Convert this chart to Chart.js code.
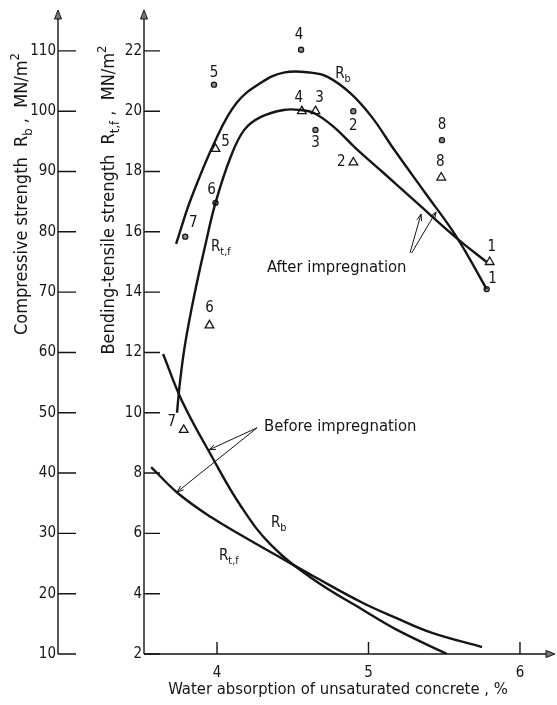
<!DOCTYPE html>
<html>
<head>
<meta charset="utf-8">
<script src="https://cdn.jsdelivr.net/npm/chart.js@4"></script>
<style>
  body { margin: 0; background: #fff; }
  canvas { display: block; }
</style>
</head>
<body>
<canvas id="strengthChart" width="557" height="705"></canvas>
<script>
const ctx = document.getElementById('strengthChart').getContext('2d');

const INK = '#151515';
const FONT = '"DejaVu Sans Condensed", "Liberation Sans Narrow", "DejaVu Sans", sans-serif';

// axis ticks
const xTicks = [4, 5, 6];
const bendingTicks = [2, 4, 6, 8, 10, 12, 14, 16, 18, 20, 22];
const compressiveTicks = [10, 20, 30, 40, 50, 60, 70, 80, 90, 100, 110];

// specimens 1..8 after impregnation
const specimens = ['1', '2', '3', '4', '5', '6', '7', '8'];
const rbPointX = [5.78, 4.90, 4.65, 4.555, 3.98, 3.99, 3.79, 5.485];
const rbPointY = [70.5, 100.0, 96.9, 110.2, 104.4, 84.8, 79.2, 95.2];
const rtfPointX = [5.80, 4.90, 4.65, 4.56, 3.99, 3.95, 3.78, 5.48];
const rtfPointY = [15.0, 18.3, 20.0, 20.0, 18.75, 12.9, 9.43, 17.8];

// fitted curves after impregnation
const afterRbX = [3.73, 3.83, 3.99, 4.13, 4.29, 4.44, 4.62, 4.73, 4.88, 5.02, 5.17, 5.37, 5.58, 5.78];
const afterRbY = [78.0, 85.6, 95.2, 101.4, 104.7, 106.4, 106.4, 105.7, 103.0, 99.1, 93.6, 86.6, 79.2, 70.5];
const afterRtfX = [3.736, 3.755, 3.79, 3.85, 3.92, 3.99, 4.09, 4.18, 4.29, 4.44, 4.55, 4.64, 4.77, 4.92, 5.10, 5.30, 5.58, 5.78];
const afterRtfY = [10.0, 11.0, 12.3, 13.9, 15.5, 16.96, 18.48, 19.38, 19.81, 20.04, 20.04, 19.94, 19.48, 18.75, 17.95, 17.05, 15.80, 15.0];

// fitted curves before impregnation
const beforeRbX = [3.644, 3.769, 3.96, 4.158, 4.356, 4.64, 4.964, 5.188, 5.518];
const beforeRbY = [59.75, 51.96, 43.0, 34.5, 28.1, 22.3, 17.3, 14.0, 10.0];
const beforeRtfX = [3.565, 3.74, 3.96, 4.18, 4.40, 4.64, 4.96, 5.19, 5.41, 5.75];
const beforeRtfY = [8.20, 7.34, 6.54, 5.88, 5.25, 4.57, 3.70, 3.18, 2.72, 2.23];

const pts = (xs, ys) => xs.map((x, i) => ({ x, y: ys[i] }));

function curve(xs, ys, axis) {
  return {
    data: pts(xs, ys),
    yAxisID: axis,
    showLine: true,
    borderColor: INK,
    borderWidth: 2.4,
    pointRadius: 0,
    tension: 0.4,
    fill: false
  };
}

// text with sub/superscript runs: [[text, ''|'sub'|'sup'], ...]
function runsWidth(c, runs, size) {
  let w = 0;
  for (const [t, k] of runs) {
    c.font = `${k ? size * 0.72 : size}px ${FONT}`;
    w += c.measureText(t).width;
  }
  return w;
}
function drawRuns(c, runs, x, y, size) {
  let cx = x;
  for (const [t, k] of runs) {
    const s = k ? size * 0.72 : size;
    c.font = `${s}px ${FONT}`;
    const dy = k === 'sub' ? size * 0.28 : k === 'sup' ? -size * 0.42 : 0;
    c.fillText(t, cx, y + dy);
    cx += c.measureText(t).width;
  }
}

function arrowLine(c, x0, y0, x1, y1) {
  c.beginPath(); c.moveTo(x0, y0); c.lineTo(x1, y1); c.stroke();
  const a = Math.atan2(y1 - y0, x1 - x0);
  c.beginPath();
  c.moveTo(x1 - 7 * Math.cos(a - 0.35), y1 - 7 * Math.sin(a - 0.35));
  c.lineTo(x1, y1);
  c.lineTo(x1 - 7 * Math.cos(a + 0.35), y1 - 7 * Math.sin(a + 0.35));
  c.stroke();
}

function arrowHead(c, tipX, tipY, dir) {
  c.beginPath();
  if (dir === 'up') {
    c.moveTo(tipX, tipY); c.lineTo(tipX - 3.5, tipY + 9); c.lineTo(tipX + 3.5, tipY + 9);
  } else {
    c.moveTo(tipX, tipY); c.lineTo(tipX - 9, tipY - 3.5); c.lineTo(tipX - 9, tipY + 3.5);
  }
  c.closePath();
  c.fillStyle = '#777';
  c.fill();
  c.stroke();
}

// axis lines, inward tick marks and arrowheads
const axesPlugin = {
  id: 'axesLines',
  afterDraw(chart) {
    const c = chart.ctx;
    const { x, yB, yC } = chart.scales;
    const a = chart.chartArea;
    c.save();
    c.strokeStyle = INK;
    c.lineWidth = 1.4;
    const leftX = yC.right;
    const baseY = yC.getPixelForValue(10);

    c.beginPath();
    c.moveTo(leftX, baseY); c.lineTo(leftX, a.top);
    c.moveTo(a.left, baseY); c.lineTo(a.left, a.top);
    c.moveTo(a.left, a.bottom); c.lineTo(a.right, a.bottom);
    c.stroke();

    c.beginPath();
    compressiveTicks.forEach(v => {
      const py = yC.getPixelForValue(v);
      c.moveTo(leftX, py); c.lineTo(leftX + 18, py);
    });
    bendingTicks.forEach(v => {
      const py = yB.getPixelForValue(v);
      c.moveTo(a.left, py); c.lineTo(a.left + 16, py);
    });
    xTicks.forEach(v => {
      const px = x.getPixelForValue(v);
      c.moveTo(px, a.bottom); c.lineTo(px, a.bottom - 12);
    });
    c.stroke();

    c.lineWidth = 1;
    arrowHead(c, leftX, a.top - 5, 'up');
    arrowHead(c, a.left, a.top - 5, 'up');
    arrowHead(c, a.right + 7, a.bottom, 'right');
    c.restore();
  }
};

// axis titles, curve names, specimen numbers and call-out arrows
const labelPlugin = {
  id: 'chartLabels',
  afterDraw(chart) {
    const c = chart.ctx;
    const { x, yB } = chart.scales;
    const X = v => x.getPixelForValue(v);
    const B = v => yB.getPixelForValue(v);
    c.save();
    c.fillStyle = INK;
    c.strokeStyle = INK;

    // rotated y-axis titles
    const vTitle = (runs, bx, cy, size) => {
      c.save();
      c.translate(bx, cy);
      c.rotate(-Math.PI / 2);
      c.textAlign = 'left';
      c.textBaseline = 'alphabetic';
      const w = runsWidth(c, runs, size);
      drawRuns(c, runs, -w / 2, 0, size);
      c.restore();
    };
    vTitle([['Compressive strength  R', ''], ['b', 'sub'], [' ,  MN/m', ''], ['2', 'sup']], 27, 194, 18);
    vTitle([['Bending-tensile strength  R', ''], ['t,f', 'sub'], [' ,  MN/m', ''], ['2', 'sup']], 114, 200, 18);

    // x-axis title
    c.font = `16.5px ${FONT}`;
    c.textAlign = 'center';
    c.textBaseline = 'middle';
    c.fillText('Water absorption of unsaturated concrete , %', 338, 690);

    // curve names
    c.textAlign = 'left';
    c.textBaseline = 'alphabetic';
    drawRuns(c, [['R', ''], ['b', 'sub']], X(4.78), B(21.1), 15);
    drawRuns(c, [['R', ''], ['t,f', 'sub']], X(3.96), B(15.37), 15);
    drawRuns(c, [['R', ''], ['b', 'sub']], X(4.356), B(6.21), 15);
    drawRuns(c, [['R', ''], ['t,f', 'sub']], X(4.013), B(5.12), 15);

    c.font = `16.5px ${FONT}`;
    c.fillText('After impregnation', X(4.33), B(14.67));
    c.fillText('Before impregnation', X(4.31), B(9.40));

    c.lineWidth = 1;
    arrowLine(c, X(5.274), B(15.30), X(5.347), B(16.59));
    arrowLine(c, X(5.285), B(15.30), X(5.446), B(16.66));
    arrowLine(c, X(4.264), B(9.50), X(3.947), B(8.77));
    arrowLine(c, X(4.264), B(9.50), X(3.736), B(7.37));

    // specimen numbers next to the measured points
    const rbOff = [[6, -10], [0, 15], [0, 13], [-2, -15], [0, -12], [-4, -13], [8, -14], [0, -15]];
    const rtfOff = [[2, -15], [-12, 0], [4, -13], [-3, -13], [10, -7], [0, -17], [-12, -8], [-1, -15]];
    c.font = `15px ${FONT}`;
    c.textAlign = 'center';
    c.textBaseline = 'middle';
    const rbMeta = chart.getDatasetMeta(4).data;
    const rtfMeta = chart.getDatasetMeta(5).data;
    specimens.forEach((s, i) => {
      c.fillText(s, rbMeta[i].x + rbOff[i][0], rbMeta[i].y + rbOff[i][1]);
      c.fillText(s, rtfMeta[i].x + rtfOff[i][0], rtfMeta[i].y + rtfOff[i][1]);
    });
    c.restore();
  }
};

const tickFont = { family: FONT, size: 15 };

new Chart(ctx, {
  type: 'scatter',
  data: {
    datasets: [
      curve(afterRbX, afterRbY, 'yC'),
      curve(afterRtfX, afterRtfY, 'yB'),
      curve(beforeRbX, beforeRbY, 'yC'),
      curve(beforeRtfX, beforeRtfY, 'yB'),
      {
        data: pts(rbPointX, rbPointY),
        yAxisID: 'yC',
        pointStyle: 'circle',
        pointRadius: 2.6,
        backgroundColor: '#8a8a8a',
        borderColor: INK,
        borderWidth: 1.2
      },
      {
        data: pts(rtfPointX, rtfPointY),
        yAxisID: 'yB',
        pointStyle: 'triangle',
        pointRadius: 5,
        backgroundColor: '#fff',
        borderColor: INK,
        borderWidth: 1.3
      }
    ]
  },
  options: {
    responsive: false,
    animation: false,
    devicePixelRatio: 1,
    layout: { padding: { top: 15, right: 9, left: 0, bottom: 0 } },
    plugins: {
      legend: { display: false },
      tooltip: { enabled: false }
    },
    scales: {
      x: {
        type: 'linear',
        min: 3.518,
        max: 6.185,
        afterBuildTicks: s => { s.ticks = xTicks.map(v => ({ value: v })); },
        afterFit: s => { s.height = 51; },
        grid: { display: false, drawTicks: false },
        border: { display: false },
        ticks: { font: tickFont, color: INK, padding: 10 }
      },
      yB: {
        type: 'linear',
        position: 'left',
        weight: 0,
        min: 2,
        max: 23.19,
        afterBuildTicks: s => { s.ticks = bendingTicks.map(v => ({ value: v })); },
        afterFit: s => { s.width = 86; },
        grid: { display: false, drawTicks: false },
        border: { display: false },
        ticks: { font: tickFont, color: INK, padding: 2 }
      },
      yC: {
        type: 'linear',
        position: 'left',
        weight: 1,
        min: 10,
        max: 115.95,
        afterBuildTicks: s => { s.ticks = compressiveTicks.map(v => ({ value: v })); },
        afterFit: s => { s.width = 58; },
        grid: { display: false, drawTicks: false },
        border: { display: false },
        ticks: { font: tickFont, color: INK, padding: 2 }
      }
    }
  },
  plugins: [axesPlugin, labelPlugin]
});
</script>
</body>
</html>
